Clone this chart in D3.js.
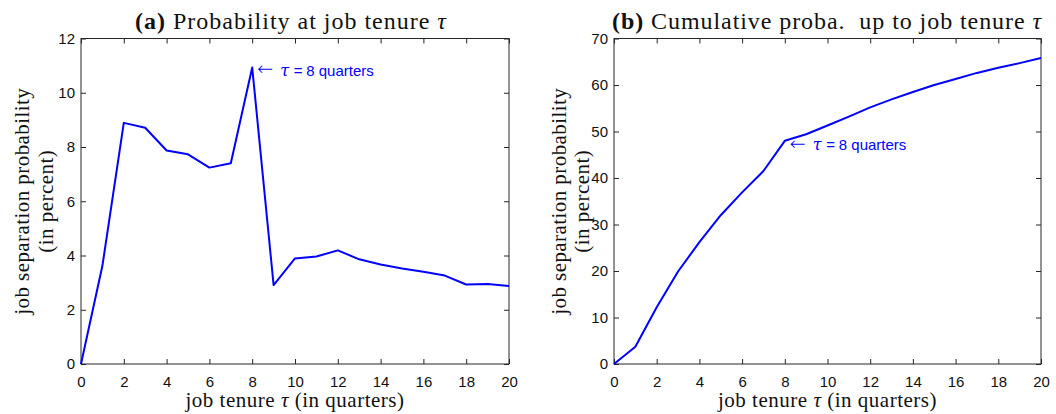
<!DOCTYPE html>
<html><head><meta charset="utf-8">
<script src="https://cdn.jsdelivr.net/npm/d3@7"></script>
<style>body{margin:0;background:#fff}svg{display:block}</style>
</head><body>
<svg id="c" width="1056" height="414"></svg>
<script>
const tenure = [0,1,2,3,4,5,6,7,8,9,10,11,12,13,14,15,16,17,18,19,20];
const probAt = [0,3.62,8.89,8.71,7.87,7.73,7.24,7.40,10.93,2.91,3.89,3.96,4.19,3.86,3.67,3.52,3.40,3.26,2.93,2.95,2.88];
const probCum = [0,3.7,12.2,19.9,26.2,32.0,36.9,41.5,48.0,49.4,51.3,53.2,55.2,56.9,58.5,60.0,61.3,62.6,63.7,64.7,65.8];
const xTicks = [0,2,4,6,8,10,12,14,16,18,20];
const yTicksA = [0,2,4,6,8,10,12];
const yTicksB = [0,10,20,30,40,50,60,70];
const titlesBold = ["(a)", "(b)"];
const titlesText = ["\u00a0Probability at job tenure\u00a0", "\u00a0Cumulative proba.\u00a0\u00a0up to job tenure\u00a0"];
const xLabel = "job tenure\u00a0";
const xLabelTail = "\u00a0(in quarters)";
const yLabel1 = "job separation probability";
const yLabel2 = "(in percent)";
const annotText = "8 quarters";

const svg = d3.select("#c");
const axisCol = "#262626";
const serif = "Liberation Serif, Times New Roman, serif";
const sans = "Liberation Sans, Arial, sans-serif";

function spread(sel, target, size){
  sel.style("font-size", size+"px").style("letter-spacing","0px");
  const w = sel.node().getComputedTextLength();
  const n = sel.text().length;
  sel.style("letter-spacing", ((target-w)/n).toFixed(2)+"px");
}

function panel(cfg){
  const {left,right,top,bottom,ymax,yTicks,data,title,annotDy,titleCx,titleW,ylabX1,ylabX2} = cfg;
  const x = d3.scaleLinear().domain([0,20]).range([left,right]);
  const y = d3.scaleLinear().domain([0,ymax]).range([bottom,top]);
  const g = svg.append("g");
  const ax = g.append("g").attr("transform",`translate(0,${bottom})`)
    .call(d3.axisBottom(x).tickValues(xTicks).tickSize(-5).tickSizeOuter(0).tickPadding(12).tickFormat(d3.format("d")));
  const axT = g.append("g").attr("transform",`translate(0,${top})`)
    .call(d3.axisTop(x).tickValues(xTicks).tickSize(-5).tickSizeOuter(0).tickFormat(""));
  const ay = g.append("g").attr("transform",`translate(${left},0)`)
    .call(d3.axisLeft(y).tickValues(yTicks).tickSize(-5).tickSizeOuter(0).tickPadding(6).tickFormat(d3.format("d")));
  const ayR = g.append("g").attr("transform",`translate(${right},0)`)
    .call(d3.axisRight(y).tickValues(yTicks).tickSize(-5).tickSizeOuter(0).tickFormat(""));
  [ax,axT,ay,ayR].forEach(a=>{
    a.select(".domain").remove();
    a.selectAll("line").attr("stroke",axisCol).attr("stroke-width",1);
    a.selectAll("text").attr("fill","#111").style("font-family",sans).style("font-size","15px");
  });
  g.append("rect").attr("x",left).attr("y",top).attr("width",right-left).attr("height",bottom-top)
    .attr("fill","none").attr("stroke",axisCol).attr("stroke-width",1);
  const line = d3.line().x((d,i)=>x(tenure[i])).y(d=>y(d));
  g.append("path").datum(data).attr("d",line).attr("fill","none").attr("stroke","#0000ff").attr("stroke-width",2).attr("stroke-linejoin","round");
  // annotation
  const ax8 = x(tenure[8]), ay8 = y(data[8]) + annotDy;
  const ag = g.append("g").attr("fill","#0000ff");
  ag.append("text").attr("x",ax8+5).attr("y",ay8-0.5).text("\u2190")
    .style("font-family","DejaVu Sans, sans-serif").style("font-size","19px").style("font-weight","200");
  ag.append("text").attr("x",ax8+28).attr("y",ay8).text("\u03c4")
    .style("font-family","DejaVu Serif, serif").style("font-style","italic").style("font-size","16px");
  ag.append("text").attr("x",ax8+41.5).attr("y",ay8).text("=")
    .style("font-family",sans).style("font-size","15px");
  ag.append("text").attr("x",ax8+54).attr("y",ay8).text(annotText)
    .style("font-family",sans).style("font-size","15px");
  // title
  const tt = g.append("text").attr("x",titleCx).attr("y",29).attr("text-anchor","middle").attr("fill","#111").style("font-family",serif);
  tt.append("tspan").text(title[0]).style("font-weight","bold");
  tt.append("tspan").text(title[1]);
  tt.append("tspan").text("\u03c4").style("font-style","italic");
  spread(tt, titleW, 24);
  // x label
  const xl = g.append("text").attr("x",(left+right)/2).attr("y",407).attr("text-anchor","middle").attr("fill","#111")
    .style("font-family",serif);
  xl.append("tspan").text(xLabel);
  xl.append("tspan").text("\u03c4").style("font-style","italic");
  xl.append("tspan").text(xLabelTail);
  spread(xl, 219, 21);
  // y label
  const cy = (top+bottom)/2;
  const y1 = g.append("text").attr("transform",`translate(${ylabX1},${cy}) rotate(-90)`).attr("text-anchor","middle").attr("fill","#111")
    .style("font-family",serif).text(yLabel1);
  spread(y1, 227, 21);
  const y2 = g.append("text").attr("transform",`translate(${ylabX2},${cy}) rotate(-90)`).attr("text-anchor","middle").attr("fill","#111")
    .style("font-family",serif).text(yLabel2);
  spread(y2, 103, 21);
}

panel({left:81,right:509,top:38.5,bottom:364,ymax:12,yTicks:yTicksA,data:probAt,
  title:[titlesBold[0],titlesText[0]],annotDy:8,titleCx:291,titleW:312,ylabX1:29,ylabX2:53});
panel({left:614,right:1041,top:38.5,bottom:364,ymax:70,yTicks:yTicksB,data:probCum,
  title:[titlesBold[1],titlesText[1]],annotDy:9.5,titleCx:827,titleW:430,ylabX1:566,ylabX2:589});
</script>
</body></html>
